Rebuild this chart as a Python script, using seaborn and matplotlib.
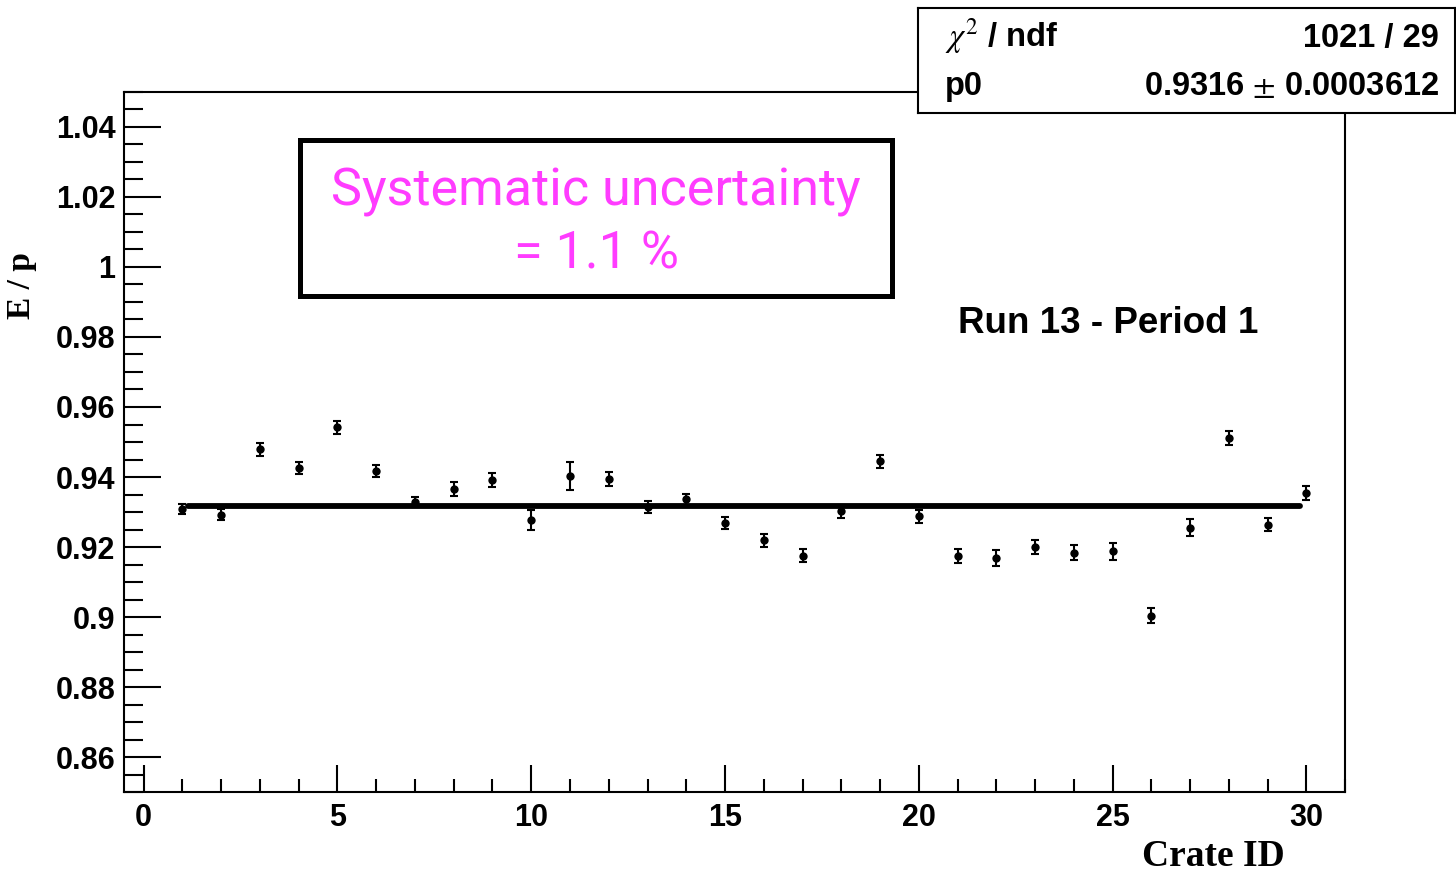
import numpy as np
import pandas as pd
import matplotlib
matplotlib.use("Agg")
import matplotlib.pyplot as plt
from matplotlib.patches import Rectangle
from matplotlib.ticker import MultipleLocator
import seaborn as sns

# E/p per crate
crate_id = list(range(1, 31))
ep_value = [0.9309, 0.9293, 0.9479, 0.9426, 0.9542, 0.9417, 0.9329, 0.9365, 0.9391, 0.9277,
            0.9403, 0.9395, 0.9314, 0.9336, 0.9269, 0.9219, 0.9176, 0.9302, 0.9445, 0.9288,
            0.9176, 0.9169, 0.9199, 0.9184, 0.9188, 0.9004, 0.9256, 0.9511, 0.9264, 0.9355]
ep_error = [0.0015, 0.0017, 0.0018, 0.0018, 0.0018, 0.0017, 0.0014, 0.0020, 0.0020, 0.0029,
            0.0040, 0.0020, 0.0018, 0.0017, 0.0018, 0.0019, 0.0018, 0.0018, 0.0019, 0.0019,
            0.0020, 0.0023, 0.0020, 0.0022, 0.0025, 0.0021, 0.0024, 0.0020, 0.0019, 0.0020]

# constant fit
fit_range = [1.15, 29.85]
p0 = 0.9316
p0_err = 0.0003612
chi2_text = "1021 / 29"

df = pd.DataFrame({"crate": crate_id, "ep": ep_value, "err": ep_error})
fit_df = pd.DataFrame({"crate": fit_range, "ep": [p0, p0]})

sns.set_style("white")
plt.rcParams["font.family"] = ["Liberation Sans", "DejaVu Sans"]
plt.rcParams["mathtext.fontset"] = "stix"
plt.rcParams["text.color"] = "black"
plt.rcParams["xtick.color"] = "black"
plt.rcParams["ytick.color"] = "black"

fig = plt.figure(figsize=(14.56, 8.76), dpi=100)
ax = fig.add_axes([0.0854, 0.0955, 0.8384, 0.7998])

ax.errorbar(df["crate"], df["ep"], yerr=df["err"], fmt="none", ecolor="black",
            elinewidth=1.5, capsize=3, capthick=1.5, zorder=3)
sns.scatterplot(data=df, x="crate", y="ep", color="black", s=36, edgecolor="black",
                linewidth=0, ax=ax, zorder=4)
sns.lineplot(data=fit_df, x="crate", y="ep", color="black", linewidth=4.2, ax=ax, zorder=2)

ax.set_xlim(-0.5, 31)
ax.set_ylim(0.85, 1.05)
ax.xaxis.set_major_locator(MultipleLocator(5))
ax.xaxis.set_minor_locator(MultipleLocator(1))
ax.yaxis.set_major_locator(MultipleLocator(0.02))
ax.yaxis.set_minor_locator(MultipleLocator(0.005))
ax.yaxis.set_major_formatter(matplotlib.ticker.FuncFormatter(lambda v, p: f"{v:.2f}".rstrip("0").rstrip(".")))

ax.tick_params(axis="both", which="both", direction="in", width=1.5, color="black",
               labelcolor="black", bottom=True, left=True, top=False, right=False)
ax.tick_params(axis="y", which="major", length=26.5, pad=6.5)
ax.tick_params(axis="y", which="minor", length=13.5)
ax.tick_params(axis="x", which="major", length=19.5, pad=8)
ax.tick_params(axis="x", which="minor", length=9.5)
for lbl in ax.get_xticklabels() + ax.get_yticklabels():
    lbl.set_fontsize(22)
    lbl.set_fontweight("bold")
for sp in ax.spines.values():
    sp.set_linewidth(1.5)
    sp.set_color("black")

ax.set_xlabel("")
ax.set_ylabel("")
ax.text(0.951, -0.092, "Crate ID", transform=ax.transAxes, ha="right", va="center",
        fontsize=27, fontweight="bold", family="Liberation Serif")
ax.text(-0.0846, 0.7227, "E / p", transform=ax.transAxes, ha="center", va="center",
        rotation=90, fontsize=24, fontweight="bold", family="Liberation Serif")

ax.text(0.683, 0.655, "Run 13 - Period 1", transform=ax.transAxes, ha="left",
        va="baseline", fontsize=26.5, fontweight="bold")

# systematic uncertainty box
ax.add_patch(Rectangle((0.1439, 0.7084), 0.629 - 0.1439, 0.931 - 0.7084,
                       transform=ax.transAxes, fill=True, facecolor="white",
                       edgecolor="black", linewidth=3.6, zorder=5))
ax.text(0.3864, 0.837, "Systematic uncertainty", transform=ax.transAxes, ha="center",
        va="baseline", fontsize=37.5, color="#ff3cff", family="Roboto", zorder=6)
ax.text(0.3864, 0.748, "= 1.1 %", transform=ax.transAxes, ha="center", va="baseline",
        fontsize=37.5, color="#ff3cff", family="Roboto", zorder=6)

# fit statistics box
sax = fig.add_axes([0.6305, 0.871, 0.3688, 0.1199], zorder=10)
sax.set_facecolor("white")
sax.set_xticks([])
sax.set_yticks([])
for sp in sax.spines.values():
    sp.set_linewidth(1.5)
    sp.set_color("black")
sax.text(0.05, 0.631, r"$\chi^{2}$ / ndf", ha="left", va="baseline", fontsize=23.5,
         fontweight="bold", transform=sax.transAxes)
sax.text(0.97, 0.631, chi2_text, ha="right", va="baseline", fontsize=23.5,
         fontweight="bold", transform=sax.transAxes)
sax.text(0.05, 0.171, "p0", ha="left", va="baseline", fontsize=23.5,
         fontweight="bold", transform=sax.transAxes)
sax.text(0.97, 0.171, rf"{p0:.4f} $\pm$ {p0_err:.7f}", ha="right", va="baseline",
         fontsize=23.5, fontweight="bold", transform=sax.transAxes)

fig.savefig("out.png", dpi=100, facecolor="white")
